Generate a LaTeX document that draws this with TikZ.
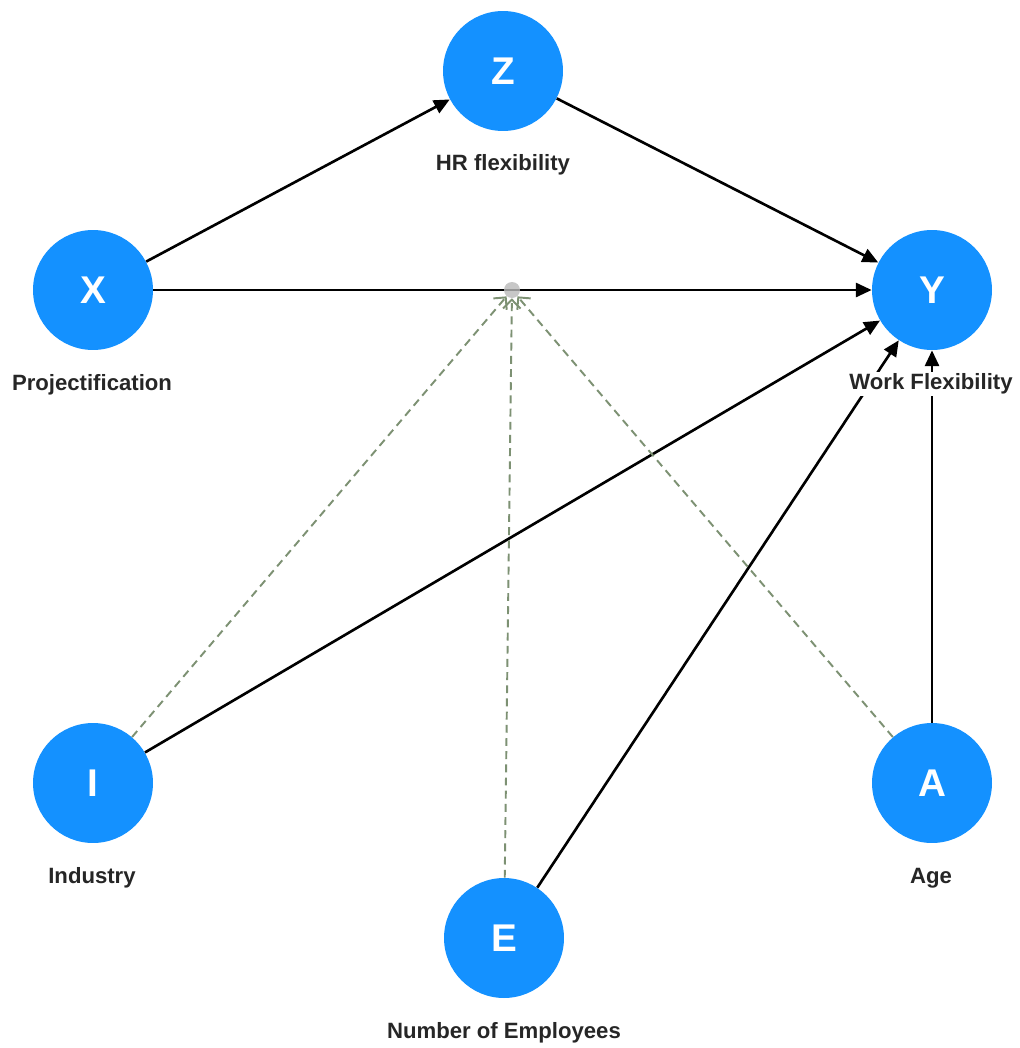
\documentclass[tikz,border=0pt]{standalone}
\usepackage{fontspec}
\setmainfont{Liberation Sans}
\usetikzlibrary{arrows.meta}
\definecolor{nodeblue}{RGB}{20,145,255}
\definecolor{modgreen}{RGB}{125,145,115}
\definecolor{dotgray}{RGB}{185,185,185}

\begin{document}
\begin{tikzpicture}[
					x=0.02cm, y=-0.02cm,
					% bien (hinh tron xanh)
					var/.style={
						circle, fill=nodeblue, inner sep=0pt, minimum size=2.4cm,
						text=white, font=\bfseries\fontsize{22}{24}\selectfont
					},
					% nhan ten bien
					var_label/.style={
						fill=white, inner sep=1pt,
						font=\bfseries\fontsize{12.6}{14}\selectfont, text=black!85
					},
					effect/.style={
						draw=black, line width=1.5pt,
						-{Triangle[length=9pt,width=8pt]}
					},
					moderation/.style={
						draw=modgreen, line width=1.1pt, dash pattern=on 4.5pt off 3pt,
						-{Straight Barb[length=5pt,width=10pt]}
					}
					]
					\useasboundingbox (0,0) rectangle (1019,1048);
					
					% Cac bien
					\node[var] (Z) at (503,71) {Z};
					\node[var] (X) at (93,290) {X};
					\node[var] (Y) at (932,290) {Y};
					\node[var] (I) at (93,783) {I};
					\node[var] (A) at (932,783) {A};
					\node[var] (E) at (504,938) {E};
					
					% Duong tac dong
					\draw[effect] (X) -- (Z);
					\draw[effect] (Z) -- (Y);
					\draw[effect] (X) -- (Y);
					\draw[effect] (I) -- (Y);
					\draw[effect] (E) -- (Y);
					\draw[effect] (A) -- (Y);
					
					% Diem dieu tiet tren X -> Y
					\node[circle, fill=dotgray, opacity=0.8, inner sep=0pt, minimum size=0.32cm] (M) at (512,290) {};
					\draw[moderation] (I) -- (M);
					\draw[moderation] (E) -- (M);
					\draw[moderation] (A) -- (M);
					
					% Ten bien (ve sau de che duong)
					\node[var_label] (Zlab) at (503,165) {HR flexibility};
					\node[var_label] (Xlab) at (92,385) {Projectification};
					\node[var_label] (Ylab) at (931,384) {Work Flexibility};
					\node[var_label] (Ilab) at (92,878) {Industry};
					\node[var_label] (Alab) at (931,878) {Age};
					\node[var_label] (Elab) at (504,1033) {Number of Employees};
					
				\end{tikzpicture}
\end{document}
